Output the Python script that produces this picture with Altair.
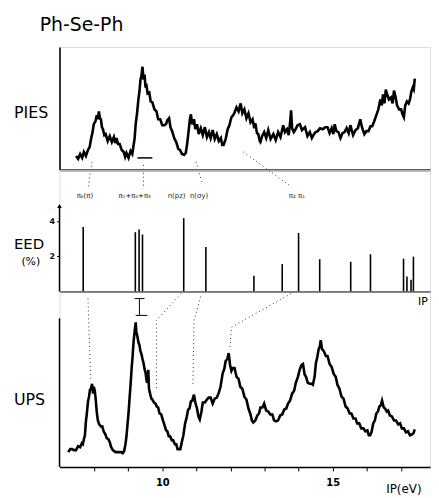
import altair as alt
import pandas as pd

FONT = "DejaVu Sans"

# ---------------- data ----------------
# PIES trace (energy in eV, intensity in arbitrary units)
PIES_EV = [7.47, 7.53, 7.59, 7.65, 7.70, 7.76, 7.82, 7.87, 7.91, 7.95, 7.99, 8.04, 8.08, 8.11, 8.14, 8.17,
           8.20, 8.23, 8.26, 8.30, 8.34, 8.40, 8.46, 8.52, 8.58, 8.62, 8.66, 8.70, 8.75, 8.81, 8.87, 8.91,
           8.95, 9.01, 9.07, 9.12, 9.16, 9.19, 9.22, 9.26, 9.30, 9.33, 9.36, 9.39, 9.42, 9.45, 9.48, 9.51,
           9.53, 9.57, 9.62, 9.66, 9.71, 9.77, 9.83, 9.88, 9.94, 10.00, 10.06, 10.11, 10.15, 10.20, 10.24,
           10.29, 10.35, 10.41, 10.47, 10.52, 10.58, 10.64, 10.69, 10.73, 10.78, 10.81, 10.84, 10.88, 10.93,
           10.97, 11.02, 11.07, 11.13, 11.19, 11.25, 11.31, 11.37, 11.42, 11.48, 11.54, 11.60, 11.66, 11.72,
           11.76, 11.80, 11.86, 11.92, 11.97, 12.03, 12.10, 12.18, 12.24, 12.30, 12.35, 12.41, 12.47, 12.53,
           12.59, 12.65, 12.70, 12.73, 12.78, 12.82, 12.86, 12.88, 12.93, 12.99, 13.05, 13.11, 13.18, 13.26,
           13.33, 13.40, 13.47, 13.55, 13.60, 13.66, 13.71, 13.75, 13.78, 13.81, 13.86, 13.90, 13.97, 14.04,
           14.10, 14.19, 14.26, 14.33, 14.39, 14.45, 14.50, 14.56, 14.63, 14.71, 14.78, 14.85, 14.91, 14.97,
           15.02, 15.06, 15.11, 15.17, 15.23, 15.29, 15.35, 15.41, 15.47, 15.52, 15.60, 15.67, 15.74, 15.81,
           15.86, 15.93, 15.99, 16.05, 16.11, 16.16, 16.22, 16.28, 16.34, 16.40, 16.44, 16.48, 16.52, 16.56,
           16.60, 16.65, 16.71, 16.76, 16.80, 16.85, 16.89, 16.95, 17.01, 17.05, 17.09, 17.13, 17.18, 17.23,
           17.27, 17.31, 17.35, 17.38, 17.41]
PIES_I = [14, 11, 16, 12, 18, 14, 20, 23, 31, 37, 46, 49, 55, 51, 59, 52,
          51, 43, 41, 35, 36, 29, 34, 28, 33, 27, 32, 26, 26, 20, 18, 13,
          17, 12, 19, 16, 25, 32, 46, 57, 71, 79, 91, 95, 104, 91, 96, 83,
          87, 77, 78, 69, 68, 61, 59, 51, 51, 45, 45, 46, 50, 52, 43,
          39, 32, 28, 21, 20, 16, 15, 17, 26, 41, 51, 56, 46, 51,
          41, 46, 36, 42, 35, 43, 33, 38, 32, 40, 31, 36, 29, 32,
          25, 25, 31, 41, 45, 53, 56, 63, 59, 67, 57, 61, 52, 57,
          48, 51, 42, 47, 37, 36, 29, 28, 34, 38, 32, 40, 31, 36,
          30, 38, 33, 45, 38, 41, 35, 47, 60, 42, 38, 40, 45, 46,
          40, 43, 34, 38, 32, 36, 38, 39, 42, 41, 43, 43, 37, 42,
          36, 46, 39, 38, 32, 37, 38, 42, 37, 45, 35, 40, 42, 51,
          43, 36, 39, 39, 44, 44, 49, 55, 61, 71, 65, 76, 67, 81,
          76, 71, 73, 67, 80, 73, 65, 61, 61, 56, 53, 65, 69, 67,
          71, 79, 83, 81, 92]

# EED bars (IP in eV, EED in %)
EED_EV = [7.68, 9.21, 9.32, 9.42, 10.63, 11.28, 12.69, 13.52, 14.00, 14.62, 15.53, 16.11, 17.08, 17.18, 17.30, 17.37]
EED_PCT = [3.67, 3.37, 3.52, 3.24, 4.17, 2.53, 0.90, 1.56, 3.33, 1.84, 1.69, 2.12, 1.87, 0.86, 0.67, 1.98]

# UPS trace (IP in eV, intensity in arbitrary units)
UPS_EV = [7.24, 7.30, 7.35, 7.41, 7.47, 7.53, 7.59, 7.64, 7.67, 7.70, 7.73, 7.76, 7.79, 7.82, 7.85, 7.88,
          7.91, 7.94, 7.97, 7.99, 8.02, 8.05, 8.08, 8.11, 8.15, 8.20, 8.24, 8.28, 8.33, 8.37, 8.42, 8.46,
          8.50, 8.55, 8.59, 8.63, 8.69, 8.75, 8.80, 8.84, 8.88, 8.92, 8.95, 8.98, 9.01, 9.04, 9.07, 9.10,
          9.13, 9.16, 9.19, 9.22, 9.24, 9.27, 9.30, 9.33, 9.36, 9.39, 9.42, 9.45, 9.48, 9.51, 9.54, 9.56,
          9.59, 9.61, 9.65, 9.68, 9.71, 9.76, 9.80, 9.84, 9.88, 9.92, 9.97, 10.02, 10.06, 10.11, 10.15,
          10.19, 10.23, 10.28, 10.32, 10.37, 10.41, 10.45, 10.49, 10.53, 10.58, 10.62, 10.67, 10.71, 10.76,
          10.80, 10.84, 10.88, 10.93, 10.97, 11.02, 11.06, 11.10, 11.15, 11.19, 11.25, 11.31, 11.36, 11.42,
          11.48, 11.54, 11.60, 11.66, 11.71, 11.77, 11.82, 11.86, 11.91, 11.95, 11.99, 12.03, 12.07, 12.12,
          12.18, 12.24, 12.29, 12.35, 12.41, 12.47, 12.53, 12.59, 12.63, 12.67, 12.73, 12.79, 12.84, 12.88,
          12.94, 12.99, 13.05, 13.11, 13.17, 13.23, 13.28, 13.34, 13.40, 13.46, 13.52, 13.58, 13.64, 13.69,
          13.75, 13.81, 13.87, 13.92, 13.98, 14.04, 14.09, 14.13, 14.18, 14.22, 14.27, 14.33, 14.38, 14.42,
          14.47, 14.51, 14.55, 14.59, 14.62, 14.65, 14.69, 14.74, 14.80, 14.85, 14.91, 14.97, 15.03, 15.09,
          15.14, 15.20, 15.26, 15.32, 15.38, 15.44, 15.50, 15.55, 15.61, 15.67, 15.72, 15.78, 15.84, 15.90,
          15.96, 16.02, 16.06, 16.10, 16.14, 16.19, 16.24, 16.28, 16.33, 16.37, 16.41, 16.45, 16.50, 16.54,
          16.59, 16.63, 16.68, 16.74, 16.80, 16.86, 16.92, 16.98, 17.03, 17.09, 17.15, 17.21, 17.27, 17.33,
          17.37, 17.41]
UPS_I = [15, 18, 18, 17, 17, 21, 20, 24, 23, 28, 32, 46, 55, 66, 71, 78,
         79, 84, 74, 81, 77, 67, 55, 47, 43, 41, 41, 36, 33, 29, 28, 25,
         20, 17, 16, 15, 15, 15, 15, 14, 16, 23, 31, 43, 54, 69, 83, 99,
         112, 127, 137, 146, 136, 132, 126, 123, 117, 114, 109, 105, 99, 95, 87, 85,
         98, 79, 73, 69, 68, 65, 64, 61, 60, 54, 53, 47, 43, 37, 36,
         31, 31, 27, 27, 23, 23, 18, 18, 18, 26, 32, 44, 49, 58,
         59, 66, 67, 73, 65, 59, 51, 48, 56, 65, 65, 68, 70, 70,
         64, 69, 70, 75, 81, 94, 99, 107, 109, 115, 103, 97, 100, 100,
         91, 89, 81, 79, 71, 68, 59, 53, 47, 45, 47, 52, 54, 60,
         60, 64, 57, 56, 53, 53, 47, 46, 47, 52, 53, 58, 59, 64,
         67, 74, 77, 85, 91, 99, 103, 104, 93, 91, 85, 84, 84, 83,
         91, 105, 111, 119, 121, 128, 119, 117, 112, 112, 104, 101, 94, 91,
         83, 79, 71, 69, 61, 59, 54, 54, 49, 49, 44, 44, 39, 39,
         36, 37, 32, 32, 35, 44, 47, 54, 56, 61, 62, 67, 60, 59,
         56, 57, 52, 51, 47, 47, 43, 44, 39, 39, 35, 36, 32, 33,
         34, 38]

# orbital assignment labels
LABELS = ["π₆(π)", "π₅+π₄+π₃", "n(pz)", "n(σy)", "π₂ π₁"]
LABEL_EV = [7.73, 9.19, 10.42, 11.08, 13.95]

UPS_TICKS = [8, 9, 10, 11, 12, 13, 14, 15, 16, 17]

# dotted correlation lines: (segment id, eV, intensity)
PIES_LINK_SEG = [1, 1, 2, 2, 3, 3, 4, 4]
PIES_LINK_EV = [7.94, 7.82, 9.45, 9.45, 10.99, 11.16, 12.38, 13.78]
PIES_LINK_I = [8, -19, 5, -19, 8, -12, 18, -17]

UPS_LINK_SEG = [1, 1, 2, 2, 2, 3, 3, 3, 4, 4, 4]
UPS_LINK_EV = [7.82, 7.90, 10.55, 9.83, 9.83, 11.13, 10.93, 10.90, 13.78, 12.03, 11.98]
UPS_LINK_I = [170, 88, 175, 148, 78, 172, 148, 81, 175, 141, 118]

# ---------------- chart ----------------
W = 374
XS = alt.Scale(domain=[6.985, 17.857], nice=False, zero=False)
PIES_H, EED_H, UPS_H = 124, 123, 177
EED_TOP = EED_H / 17.8

def plain_axis(**kw):
    base = dict(title=None, labels=False, ticks=False, grid=False,
                domainColor="black", domainWidth=1.6)
    base.update(kw)
    return alt.Axis(**base)

def label(text, x, y, size=14, align="left", baseline="middle"):
    return alt.Chart(pd.DataFrame({"t": [text]})).mark_text(
        font=FONT, fontSize=size, align=align, baseline=baseline, color="black"
    ).encode(x=alt.value(x), y=alt.value(y), text="t:N")

def link_lines(seg, ev, inten):
    df = pd.DataFrame({"seg": seg, "ev": ev, "v": inten, "o": list(range(len(ev)))})
    return alt.Chart(df).mark_line(color="#333", strokeWidth=1, strokeDash=[1, 3]).encode(
        x="ev:Q", y="v:Q", detail="seg:N", order="o:Q")

# PIES panel
pies_df = pd.DataFrame({"ev": PIES_EV, "v": PIES_I})
pies_trace = alt.Chart(pies_df).mark_line(color="black", strokeWidth=2.6).encode(
    x=alt.X("ev:Q", scale=XS, axis=plain_axis(domainWidth=2)),
    y=alt.Y("v:Q", scale=alt.Scale(domain=[0, 124], nice=False, zero=False), axis=plain_axis()),
)
pies_bar = alt.Chart(pd.DataFrame({"ev": [9.27], "ev2": [9.71], "v": [12]})).mark_rule(
    color="black", strokeWidth=1.5).encode(x="ev:Q", x2="ev2:Q", y="v:Q")
lab_df = pd.DataFrame({"ev": LABEL_EV, "v": [-26] * len(LABELS), "t": LABELS})
pies_labels = alt.Chart(lab_df).mark_text(font=FONT, fontSize=7, color="#222").encode(
    x="ev:Q", y="v:Q", text="t:N")
pies = alt.layer(
    pies_trace, pies_bar, link_lines(PIES_LINK_SEG, PIES_LINK_EV, PIES_LINK_I), pies_labels,
    label("Ph-Se-Ph", -20, -16, size=19, baseline="alphabetic"),
    label("PIES", -46, 67, size=16),
).properties(width=W, height=PIES_H)

# EED panel
eed_df = pd.DataFrame({"ev": EED_EV, "pct": EED_PCT, "zero": [0] * len(EED_EV)})
eed_bars = alt.Chart(eed_df).mark_rule(color="black", strokeWidth=1.6).encode(
    x=alt.X("ev:Q", scale=XS, axis=plain_axis(domainWidth=2)),
    y=alt.Y("pct:Q", scale=alt.Scale(domain=[0, EED_TOP], nice=False, zero=False),
            axis=alt.Axis(title=None, values=[2, 4], domain=False, grid=False, tickSize=3,
                          tickColor="black", labelColor="black", labelFontSize=8,
                          labelFontWeight="bold", labelFont=FONT, labelPadding=2)),
    y2="zero:Q",
)
eed_axis_df = pd.DataFrame({"ev": [6.985], "a": [0.0], "b": [4.86]})
eed_yline = alt.Chart(eed_axis_df).mark_rule(color="black", strokeWidth=1.5).encode(
    x="ev:Q", y="a:Q", y2="b:Q")
eed_arrow = alt.Chart(eed_axis_df).mark_point(shape="triangle-up", filled=True, size=22,
                                              color="black", opacity=1).encode(x="ev:Q", y="b:Q")
eed = alt.layer(
    eed_bars, eed_yline, eed_arrow,
    label("EED", -46, 75, size=15),
    label("(%)", -29, 93, size=11, align="center"),
).properties(width=W, height=EED_H)

# UPS panel
ups_df = pd.DataFrame({"ev": UPS_EV, "v": UPS_I})
ups_trace = alt.Chart(ups_df).mark_line(color="black", strokeWidth=2.6).encode(
    x=alt.X("ev:Q", scale=XS,
            axis=alt.Axis(title=None, values=UPS_TICKS,
                          labelExpr="datum.value % 5 == 0 ? datum.label : ''",
                          tickSize=4, tickColor="black", labelPadding=7, labelFontSize=10,
                          labelFontWeight="bold", labelFont=FONT, labelColor="black",
                          grid=False, domainColor="black", domainWidth=1.6)),
    y=alt.Y("v:Q", scale=alt.Scale(domain=[0, UPS_H], nice=False, zero=False),
            axis=alt.Axis(title=None, labels=False, ticks=False, domain=False, grid=False)),
)
ups_axis_df = pd.DataFrame({"ev": [6.985], "a": [0], "b": [150]})
ups_yline = alt.Chart(ups_axis_df).mark_rule(color="black", strokeWidth=1.5).encode(
    x="ev:Q", y="a:Q", y2="b:Q")
bracket_df = pd.DataFrame({"ev": [9.19, 9.33, 9.22], "ev2": [9.48, 9.33, 9.56],
                           "v": [170, 170, 153], "v2": [170, 153, 153]})
ups_bracket = alt.Chart(bracket_df).mark_rule(color="black", strokeWidth=1).encode(
    x="ev:Q", x2="ev2:Q", y="v:Q", y2="v2:Q")
ip_df = pd.DataFrame({"ev": [17.65, 17.09], "v": [167, -22], "t": ["IP", "IP(eV)"],
                      "s": [11, 12]})
ups_ip = alt.Chart(ip_df).mark_text(font=FONT, color="black").encode(
    x="ev:Q", y="v:Q", text="t:N", size=alt.Size("s:Q", scale=None, legend=None))
ups = alt.layer(
    ups_trace, ups_yline, ups_bracket, link_lines(UPS_LINK_SEG, UPS_LINK_EV, UPS_LINK_I), ups_ip,
    label("UPS", -46, 109, size=16),
).properties(width=W, height=UPS_H)

chart = alt.vconcat(pies, eed, ups, spacing=0, bounds="flush").properties(
    padding={"left": 5, "top": 5, "right": 0, "bottom": 0}
).configure_view(stroke=None).configure(background="white")

chart.save("out.html", embed_options={"renderer": "svg", "actions": False})
